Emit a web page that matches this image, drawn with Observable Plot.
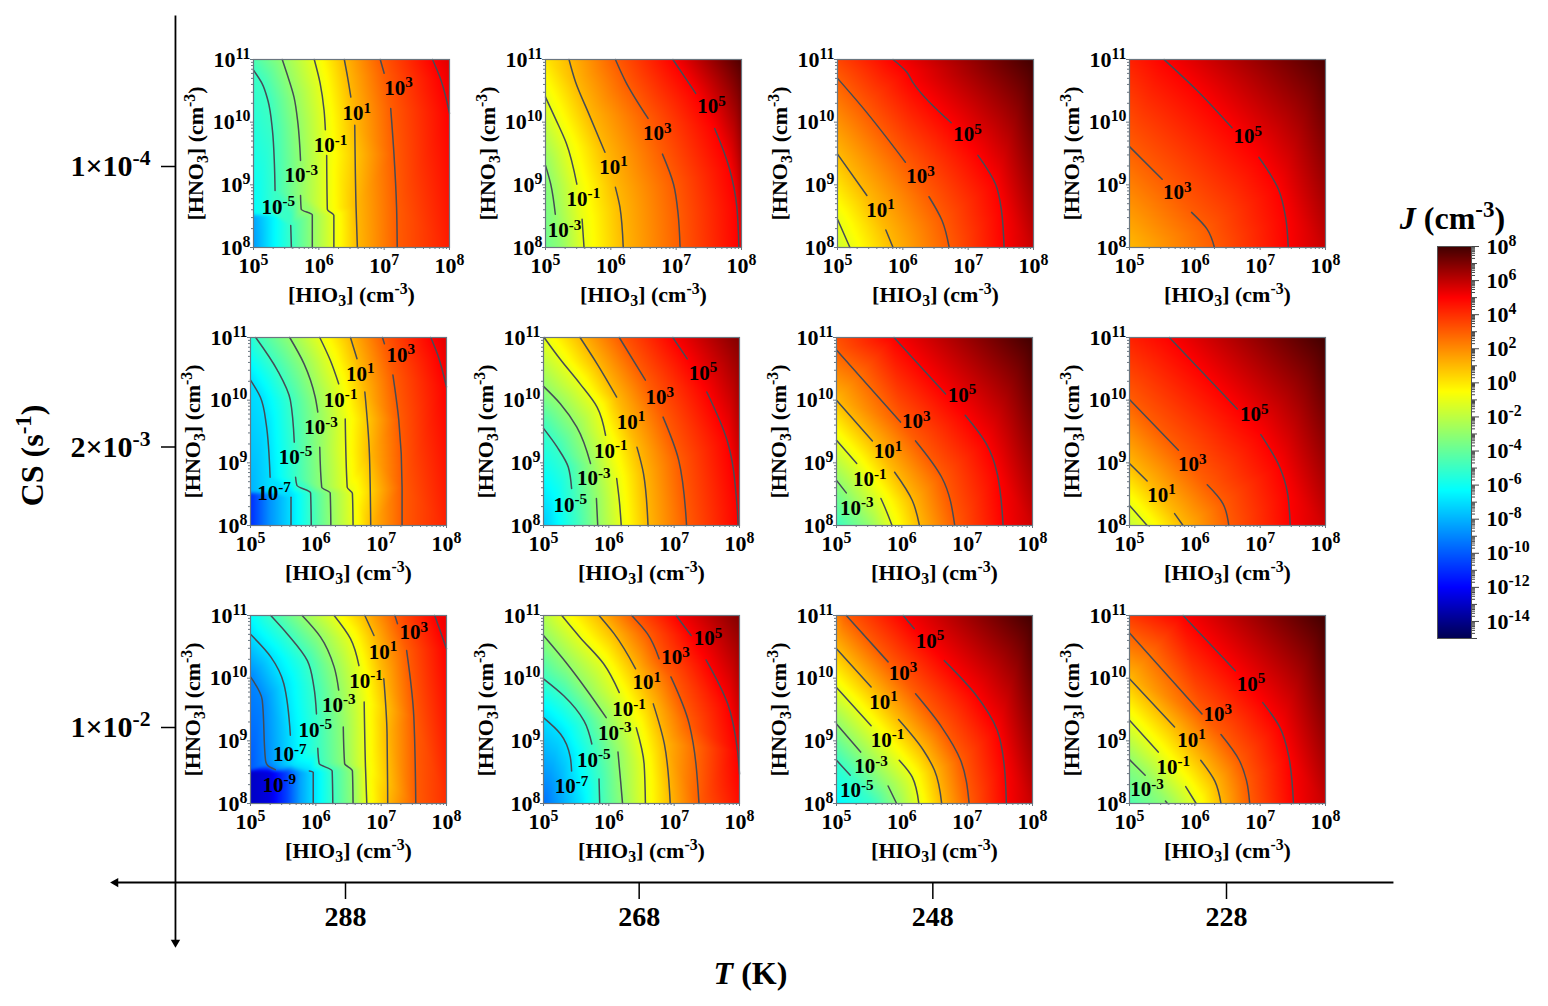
<!DOCTYPE html>
<html><head><meta charset="utf-8">
<script src="https://cdn.jsdelivr.net/npm/d3@7"></script>
<script src="https://cdn.jsdelivr.net/npm/@observablehq/plot@0.6"></script>
<style>
html,body{margin:0;padding:0;background:#fff}
#page{position:relative;width:1548px;height:1006px;overflow:hidden;background:#fff}
#page svg{position:absolute;overflow:visible}
</style></head><body><div id="page"></div>
<script>
// ---------- values ----------
const temperatures=[288,268,248,228];
const csRows=[0,1,2];
const csLabels=["1×10^-4","2×10^-3","1×10^-2"];
const hioDomain=[1e5,1e8], hnoDomain=[1e8,1e11];
const hioMajor=[1e5,1e6,1e7,1e8], hnoMajor=[1e8,1e9,1e10,1e11];
const jStops=[-15,-12,-6.3,-0.5,5,8];
const jColors=["#000050","#0000ff","#00ffff","#ffff00","#ff0000","#400000"];
const jMajor=[-14,-12,-10,-8,-6,-4,-2,0,2,4,6,8];
const jOdd=[-15,-13,-11,-9,-7,-5,-3,-1,1,3,5,7];

// contour pieces: [log10 J, log10 HIO3, log10 HNO3, ...]; labels: [log10 J, log10 HIO3, log10 HNO3]; edges: [log10 HIO3, log10 HNO3, log10 J]
const seg288a=[
[-5,5,10.83,5.13,10.62,5.22,10.35,5.29,9.87,5.32,9.33,5.33,8.91],[-5,5.57,8.35,5.58,8],
[-3,5.44,11,5.51,10.78,5.62,10.40,5.68,9.98,5.72,9.39],[-3,5.72,8.83,5.73,8.61,5.90,8.52,5.90,8],
[-1,5.93,11,6.02,10.62,6.08,10.19,6.10,9.88],[-1,6.12,9.47,6.13,8.61,6.23,8.51,6.23,8],
[1,6.39,11,6.44,10.72,6.49,10.40],[1,6.55,9.95,6.57,8.64,6.59,8],
[3,6.94,11,7,10.78],[3,7.10,10.22,7.15,9.49,7.19,8.64,7.20,8],
[5,7.74,11,7.87,10.67,8,10.14]];
const edge288a=[[5,11,-4.6],[5,8,-8.5],[8,8,4.4],[8,11,5.5],[5,8.54,-6.3],[5.34,8.54,-5],[5,8.5,-8.3],[5.3,8.5,-6.5],[5.3,8,-6.5],[5.57,8.5,-5]];
const label288a=[[-5,5.38,8.65],[-3,5.73,9.15],[-1,6.18,9.63],[1,6.58,10.14],[3,7.22,10.54]];

const seg268a=[
[-3,5,9.31,5.08,9.01,5.15,8.53],
[-1,5,10.40,5.15,10.06,5.32,9.66,5.48,9.01],[-1,5.56,8.45,5.59,8],
[1,5.36,11,5.46,10.64,5.66,10.14,5.91,9.52],[1,6.07,8.96,6.14,8.64,6.19,8],
[3,6.07,11,6.23,10.64,6.57,10.06],[3,6.79,9.49,6.96,9.01,7.03,8.53,7.06,8],
[5,6.95,11,7.30,10.46],[5,7.59,9.90,7.81,9.28,7.93,8.64,7.96,8]];
const edge268a=[[5,11,0],[5,8,-3.8],[8,8,5.3],[8,11,7.8],[5.24,8,-3]];
const label268a=[[-3,5.29,8.27],[-1,5.58,8.77],[1,6.04,9.28],[3,6.71,9.82],[5,7.54,10.25]];

const seg248a=[
[-1,5,8.45,5.19,8],
[1,5,9.49,5.45,8.83],[1,5.74,8.28,5.85,8],
[3,5,10.70,5.38,10.24,6.04,9.36],[3,6.40,8.81,6.60,8.43,6.71,8],
[5,5.85,11,6.06,10.80,6.15,10.64,6.74,9.99],[5,7.15,9.47,7.42,9.01,7.51,8.59,7.55,8]];
const edge248a=[[5,11,3.5],[5,8,-1.6],[8,8,5.9],[8,11,8]];
const label248a=[[1,5.66,8.60],[3,6.27,9.13],[5,6.99,9.80]];

const seg228a=[
[3,5,9.61,5.50,9.09],[3,5.95,8.56,6.19,8.29,6.30,8],
[5,5.53,11,6.03,10.51,6.57,9.91],[5,6.98,9.44,7.28,8.93,7.39,8.48,7.43,8]];
const edge228a=[[5,11,4.3],[5,8,1],[8,8,5.9],[8,11,7.8]];
const label228a=[[3,5.73,8.88],[5,6.81,9.77]];

const seg288b=[
[-7,5,10.32,5.15,10.05,5.24,9.62,5.30,8.77],[-7,5.62,8.45,5.62,8],
[-5,5.08,11,5.41,10.48,5.61,10,5.67,9.33],[-5,5.69,8.77,5.71,8.64,5.92,8.52,5.93,8],
[-3,5.60,11,5.82,10.58,5.99,10.05,6.03,9.81],[-3,6.06,9.25,6.09,8.61,6.22,8.52,6.23,8],
[-1,6.06,11,6.22,10.64,6.35,10.26],[-1,6.45,9.70,6.48,8.61,6.56,8.51,6.57,8],
[1,6.53,11,6.63,10.66],[1,6.75,10.13,6.82,9.15,6.84,8],
[3,7.02,11,7.05,10.90],[3,7.18,10.40,7.27,9.68,7.32,8.61,7.32,8],
[5,7.76,11,7.86,10.74,8,10.21]];
const edge288b=[[5,11,-5.6],[5,8,-11],[8,8,4.3],[8,11,5.5],[5,8.54,-8],[5.32,8.54,-7],[5,8.5,-11],[5.3,8.5,-8.7],[5.3,8,-8.7],[5.62,8.5,-7]];
const label288b=[[-7,5.36,8.52],[-5,5.69,9.09],[-3,6.08,9.56],[-1,6.38,10],[1,6.68,10.42],[3,7.30,10.72]];

const seg268b=[
[-5,5,9.55,5.21,9.25,5.38,8.93,5.43,8.59],
[-3,5,10.22,5.26,9.94,5.51,9.57,5.72,8.99],[-3,5.81,8.43,5.83,8],
[-1,5.01,11,5.25,10.66,5.56,10.26,5.82,9.89,5.95,9.44],[-1,6.12,8.75,6.16,8.40,6.19,8],
[1,5.56,11,5.82,10.58,6.12,10.05],[1,6.43,9.25,6.53,8.83,6.60,8],
[3,6.16,11,6.56,10.32],[3,6.83,9.73,7.07,9.04,7.19,8],
[5,6.98,11,7.20,10.66],[5,7.50,10.13,7.81,9.36,7.96,8.35,7.98,8]];
const edge268b=[[5,11,-1],[5,8,-7.5],[8,8,5],[8,11,7],[5.5,8,-5]];
const label268b=[[-5,5.41,8.33],[-3,5.77,8.75],[-1,6.03,9.19],[1,6.34,9.65],[3,6.78,10.04],[5,7.44,10.43]];

const seg248b=[
[-3,5,8.72,5.15,8.52],
[-1,5,9.36,5.31,8.99],[-1,5.68,8.43,5.76,8.24,5.85,8],
[1,5,10,5.55,9.35],[1,5.89,8.85,6.16,8.40,6.27,8],
[3,5,10.80,5.98,9.65],[3,6.21,9.35,6.61,8.77,6.81,8],
[5,5.88,11,6.67,10.10],[5,6.97,9.76,7.29,9.31,7.46,8.83,7.55,8]];
const edge248b=[[5,11,3.3],[5,8,-5],[8,8,5.8],[8,11,8],[5.5,8,-3]];
const label248b=[[-3,5.31,8.28],[-1,5.51,8.73],[1,5.79,9.18],[3,6.22,9.66],[5,6.92,10.08]];

const seg228b=[
[-1,5,8.32,5.27,8],
[1,5,8.99,5.27,8.71],[1,5.69,8.19,5.82,8],
[3,5,10.01,5.75,9.20],[3,6.19,8.65,6.43,8.35,6.52,8],
[5,5.61,11,6.65,9.86],[5,7.01,9.45,7.30,8.93,7.42,8.51,7.46,8]];
const edge228b=[[5,11,4.3],[5,8,-1.8],[8,8,5.8],[8,11,8]];
const label228b=[[1,5.49,8.49],[3,5.96,8.97],[5,6.91,9.77]];

const seg288c=[
[-9,5,10.02,5.18,9.65,5.23,8.69,5.26,8.61,5.38,8.54],
[-7,5,10.70,5.31,10.34,5.51,9.91,5.61,9.09],[-7,5.90,8.52,5.96,8.5,5.96,8],
[-5,5.31,11,5.56,10.71,5.87,10.28,5.97,9.86,6.01,9.43],[-5,6.03,8.88,6.05,8.64,6.25,8.52,6.26,8],
[-3,5.79,11,6.07,10.66,6.28,10.18,6.35,9.81],[-3,6.42,9.22,6.44,8.64,6.56,8.52,6.57,8],
[-1,6.28,11,6.53,10.63,6.66,10.20],[-1,6.74,9.62,6.76,8.58,6.78,8],
[1,6.75,11,6.89,10.68],[1,7.04,9.99,7.09,9.12,7.10,8],
[3,7.21,11,7.25,10.87],[3,7.39,10.44,7.50,9.38,7.53,8],
[5,7.82,11,8,10.47]];
const edge288c=[[5,11,-6.3],[5,8,-13],[8,8,4],[8,11,5.3],[5,8.54,-10],[5,8.5,-13],[5.3,8,-12.5],[5.3,8.5,-12.5],[5.56,8,-10.5],[5.56,8.5,-10.5],[5.77,8,-8.3],[5.77,8.5,-8.3],[5.63,8.62,-7]];
const label288c=[[-9,5.44,8.29],[-7,5.60,8.78],[-5,5.99,9.17],[-3,6.35,9.57],[-1,6.77,9.95],[1,7.03,10.42],[3,7.50,10.73]];

const seg268c=[
[-7,5,9.37,5.26,9.11,5.41,8.74,5.43,8.52],
[-5,5,9.99,5.31,9.72,5.62,9.32,5.74,8.95],[-5,5.85,8.39,5.86,8],
[-3,5,10.68,5.36,10.23,5.67,9.80,5.96,9.37],[-3,6.14,8.82,6.18,8.36,6.21,8],
[-1,5.28,11,5.56,10.65,5.92,10.23,6.16,9.77],[-1,6.42,9.21,6.54,8.63,6.56,8],
[1,5.85,11,6.08,10.71,6.41,10.15],[1,6.68,9.59,6.85,8.95,6.94,8],
[3,6.35,11,6.59,10.71,6.77,10.31],[3,6.95,10.02,7.23,9.27,7.38,8],
[5,7.03,11,7.26,10.68],[5,7.49,10.29,7.82,9.59,7.97,8.84,8,8.47]];
const edge268c=[[5,11,-2.2],[5,8,-9.5],[8,8,4.7],[8,11,7],[5.55,8,-7]];
const label268c=[[-7,5.43,8.27],[-5,5.77,8.69],[-3,6.09,9.12],[-1,6.31,9.50],[1,6.58,9.93],[3,7.02,10.33],[5,7.52,10.63]];

const seg248c=[
[-5,5,8.69,5.21,8.45],
[-3,5,9.27,5.37,8.82],[-3,5.79,8.28,5.92,8],
[-1,5,9.85,5.53,9.24],[-1,5.96,8.69,6.16,8.42,6.26,8],
[1,5,10.47,5.53,9.86],[1,5.95,9.34,6.33,8.85,6.50,8.53,6.61,8],
[3,5.15,11,5.79,10.26],[3,6.21,9.75,6.61,9.22,6.90,8.69,7.03,8],
[5,6.02,11,6.19,10.79],[5,6.65,10.28,7.12,9.75,7.46,9.17,7.57,8.58,7.60,8]];
const edge248c=[[5,11,2.2],[5,8,-6.5],[8,8,5.9],[8,11,8],[5.58,8,-5]];
const label248c=[[-5,5.31,8.21],[-3,5.53,8.59],[-1,5.78,9.01],[1,5.72,9.62],[3,6.02,10.08],[5,6.43,10.59]];

const seg228c=[
[-3,5,8.70,5.24,8.45],[-3,5.55,8.04,5.58,8],
[-1,5,9.33,5.44,8.82],[-1,5.86,8.27,6.02,8],
[1,5,9.99,5.69,9.22],[1,6.09,8.69,6.31,8.35,6.40,8],
[3,5,10.72,6.11,9.43],[3,6.40,9.10,6.68,8.69,6.79,8.37,6.84,8],
[5,5.82,11,6.62,10.12],[5,7.04,9.61,7.30,9.22,7.44,8.74,7.51,8]];
const edge228c=[[5,11,3.8],[5,8,-4.5],[8,8,5.9],[8,11,8]];
const label228c=[[-3,5.27,8.22],[-1,5.67,8.58],[1,5.95,9.01],[3,6.35,9.42],[5,6.86,9.91]];

const panelSets=[
[[seg288a,edge288a,label288a],[seg268a,edge268a,label268a],[seg248a,edge248a,label248a],[seg228a,edge228a,label228a]],
[[seg288b,edge288b,label288b],[seg268b,edge268b,label268b],[seg248b,edge248b,label248b],[seg228b,edge228b,label228b]],
[[seg288c,edge288c,label288c],[seg268c,edge268c,label268c],[seg248c,edge248c,label248c],[seg228c,edge228c,label228c]]];

// ---------- layout ----------
const FONT='"Liberation Serif",serif';
const panelLeft=[[253,545,837,1129],[250,543,836,1129],[250,543,836,1129]];
const panelTop=[59,337,615];
const PW=196,PH=188,ML=75,MR=25,MT=15,MB=60;
const page=document.getElementById("page");
const colorOpts={type:"linear",domain:jStops,range:jColors,clamp:true};
const baseStyle={background:"transparent",fontFamily:FONT,fontWeight:"bold",color:"#000"};

// turns ^n into superscripts, _n into subscripts and *x* into italics, keeping real text
function markup(svg){
  svg.querySelectorAll("text").forEach(t=>{
    const s=t.textContent;
    if(!/[\^_*]/.test(s)) return;
    t.textContent="";
    let back=0;
    s.split(/(\^-?\d+|_\d+|\*[^*]+\*)/).filter(p=>p!=="").forEach(p=>{
      const sp=document.createElementNS("http://www.w3.org/2000/svg","tspan");
      if(p[0]==="^"||p[0]==="_"){
        sp.textContent=p.slice(1);
        sp.setAttribute("font-size","72%");
        sp.setAttribute("dy",p[0]==="^"?"-0.5em":"0.3em");
        back=p[0]==="^"?0.36:-0.216;
      }else{
        sp.textContent=p[0]==="*"?p.slice(1,-1):p;
        if(p[0]==="*") sp.setAttribute("font-style","italic");
        if(back!==0){sp.setAttribute("dy",back+"em");back=0;}
      }
      t.appendChild(sp);
    });
  });
}
function place(svg,left,top){svg.style.left=left+"px";svg.style.top=top+"px";markup(svg);page.appendChild(svg);}
const pairs=c=>d3.range(0,c.length,2).map(i=>[c[i],c[i+1]]);
const minor=(lo,hi)=>d3.range(lo,hi).flatMap(e=>d3.range(2,10).map(k=>k*10**e));
const pow=d=>"10^"+Math.round(Math.log10(d));

// ---------- overall axes ----------
const tAxisEnds=[216.63,303.66], tAxisAt=299.58, rowAxisEnds=[-0.538,2.766], rowAxisAt=2.553;
const titleT={t:"*T* (K)",x:260.42,y:2.877};
const titleJ={t:"*J* (cm^-3)",x:212.61,y:0.185};
const titleCS={t:"CS (s^-1)",x:309.32,y:1.03};
const axes=Plot.plot({
  width:1548,height:1006,marginLeft:175,marginBottom:124,marginTop:0,marginRight:0,
  style:baseStyle,
  x:{domain:[288,228],range:[345,1226]},
  y:{domain:[0,2],range:[166,727]},
  marks:[
    Plot.axisX({ticks:temperatures,tickFormat:String,tickSize:17,tickPadding:7,fontSize:28,label:null,strokeWidth:1.5,stroke:"#000"}),
    Plot.axisY({ticks:csRows,tickFormat:(d,i)=>csLabels[i],tickSize:14,tickPadding:11,fontSize:30,label:null,strokeWidth:1.5,stroke:"#000"}),
    Plot.link([0],{x1:tAxisEnds[0],y1:rowAxisAt,x2:tAxisEnds[1],y2:rowAxisAt,stroke:"#000",strokeWidth:2}),
    Plot.link([0],{x1:tAxisAt,y1:rowAxisEnds[0],x2:tAxisAt,y2:rowAxisEnds[1],stroke:"#000",strokeWidth:1.8}),
    Plot.dot([0],{x:tAxisEnds[1],y:rowAxisAt,symbol:"triangle",r:3.5,fill:"#000",rotate:-90}),
    Plot.dot([0],{x:tAxisAt,y:rowAxisEnds[1],symbol:"triangle",r:3.5,fill:"#000",rotate:180}),
    Plot.text([titleT,titleJ],{x:"x",y:"y",text:"t",fontSize:32,fontWeight:"bold"}),
    Plot.text([titleCS],{x:"x",y:"y",text:"t",fontSize:32,fontWeight:"bold",rotate:-90})
  ]});
place(axes,0,0);

// ---------- the twelve panels ----------
panelSets.forEach((rowSets,r)=>rowSets.forEach(([segs,edges,labels],c)=>{
  const samples=[
    ...segs.flatMap(([lv,...cs])=>pairs(cs).map(([x,y])=>({x:10**x,y:10**y,v:lv}))),
    ...edges.map(([x,y,v])=>({x:10**x,y:10**y,v}))];
  const lines=segs.flatMap(([lv,...cs],i)=>pairs(cs).map(([x,y])=>({x:10**x,y:10**y,piece:i})));
  const svg=Plot.plot({
    width:PW+ML+MR,height:PH+MT+MB,marginLeft:ML,marginRight:MR,marginTop:MT,marginBottom:MB,
    style:baseStyle,
    x:{type:"log",domain:hioDomain},
    y:{type:"log",domain:hnoDomain},
    color:colorOpts,
    marks:[
      Plot.raster(samples,{x:"x",y:"y",fill:"v",interpolate:"barycentric",blur:1}),
      Plot.line(lines,{x:"x",y:"y",z:"piece",stroke:"#454c55",strokeWidth:1.5,curve:"monotone-y"}),
      Plot.frame({stroke:"#6a7680",strokeWidth:1.2}),
      Plot.axisX({ticks:minor(5,8),tickSize:2,tickFormat:()=>"",label:null,stroke:"#6a7680"}),
      Plot.axisY({ticks:minor(8,11),tickSize:2,tickFormat:()=>"",label:null,stroke:"#6a7680"}),
      Plot.axisX({ticks:hioMajor,tickSize:3,tickPadding:7,fontSize:22,tickFormat:pow,stroke:"#6a7680",label:"[HIO_3] (cm^-3)",labelAnchor:"center",labelArrow:"none",labelOffset:54}),
      Plot.axisY({ticks:hnoMajor,tickSize:3,tickPadding:0,fontSize:22,tickFormat:pow,stroke:"#6a7680",label:"[HNO_3] (cm^-3)",labelAnchor:"center",labelArrow:"none",labelOffset:66}),
      Plot.text(labels,{x:d=>10**d[1],y:d=>10**d[2],text:d=>"10^"+d[0],fontSize:21,fontWeight:"bold",fill:"#000"})
    ]});
  place(svg,panelLeft[r][c]-ML,panelTop[r]-MT);
}));

// ---------- colour bar ----------
const bar=Plot.plot({
  width:111,height:412,marginLeft:0,marginRight:77,marginTop:10,marginBottom:10,
  style:baseStyle,
  x:{domain:[0,1],axis:null},
  y:{domain:[-15,8],axis:null},
  color:colorOpts,
  marks:[
    Plot.raster({x1:0,x2:1,y1:-15,y2:8,width:1,height:392,fill:(x,y)=>y}),
    Plot.frame({stroke:"#555",strokeWidth:1}),
    Plot.axisY({anchor:"right",ticks:d3.range(-15,8).flatMap(e=>d3.range(2,10).map(k=>e+Math.log10(k))).filter(v=>v<8),tickSize:3,tickFormat:()=>"",label:null,stroke:"#444"}),
    Plot.axisY({anchor:"right",ticks:jOdd,tickSize:5,tickFormat:()=>"",label:null,stroke:"#444"}),
    Plot.axisY({anchor:"right",ticks:jMajor,tickSize:7,tickPadding:8,fontSize:22,tickFormat:d=>"10^"+d,label:null,stroke:"#444"})
  ]});
place(bar,1437,236);
</script></body></html>
